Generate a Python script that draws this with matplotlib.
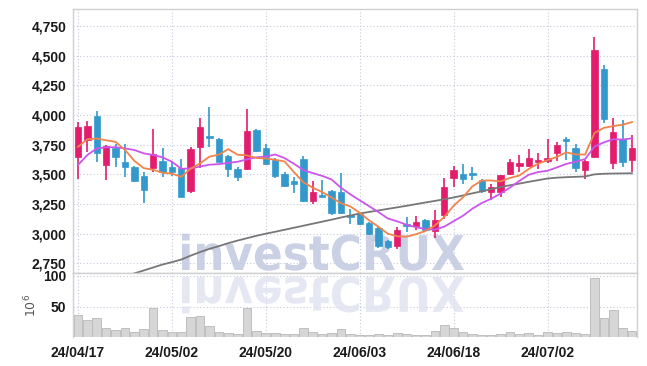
import matplotlib
matplotlib.use('Agg')
import numpy as np
import pandas as pd
import matplotlib.pyplot as plt
from matplotlib.textpath import TextPath
from matplotlib.patches import PathPatch
from matplotlib.font_manager import FontProperties
from matplotlib.transforms import Affine2D, IdentityTransform
from matplotlib.ticker import FuncFormatter

# Daily candles (60 sessions)
tick_labels = ['24/04/17', '24/05/02', '24/05/20', '24/06/03', '24/06/18', '24/07/02']

opens = [3649, 3789, 3992, 3579, 3719, 3607, 3565, 3486, 3556, 3615,
         3559, 3551, 3362, 3733, 3823, 3795, 3655, 3543, 3547, 3874,
         3719, 3621, 3503, 3444, 3627, 3278, 3326, 3359, 3351, 3157,
         3166, 3092, 3048, 2940, 2896, 3081, 3064, 3115, 3025, 3157,
         3467, 3503, 3514, 3452, 3351, 3354, 3500, 3573, 3573, 3601,
         3615, 3677, 3800, 3722, 3536, 3649, 4386, 3598, 3795, 3621]
highs = [3944, 3952, 4036, 3745, 3756, 3753, 3570, 3522, 3880, 3719,
         3600, 3627, 3733, 3972, 4065, 3803, 3663, 3559, 4048, 3880,
         3756, 3635, 3520, 3480, 3656, 3446, 3452, 3370, 3514, 3205,
         3175, 3100, 3060, 2945, 3059, 3143, 3149, 3125, 3199, 3467,
         3570, 3587, 3564, 3458, 3418, 3495, 3629, 3663, 3713, 3677,
         3797, 3770, 3812, 3756, 3621, 4660, 4420, 3972, 3958, 3832]
lows = [3458, 3691, 3601, 3452, 3565, 3480, 3438, 3256, 3522, 3475,
        3490, 3311, 3345, 3551, 3733, 3600, 3475, 3446, 3536, 3685,
        3575, 3466, 3393, 3340, 3267, 3250, 3305, 3160, 3165, 3081,
        3075, 2985, 2880, 2875, 2868, 3016, 3031, 3022, 2961, 3121,
        3396, 3419, 3452, 3340, 3284, 3306, 3492, 3522, 3564, 3542,
        3598, 3615, 3621, 3522, 3458, 3645, 3935, 3542, 3564, 3522]
closes = [3896, 3907, 3677, 3739, 3649, 3559, 3446, 3368, 3672, 3522,
          3522, 3311, 3710, 3896, 3806, 3607, 3543, 3475, 3866, 3700,
          3584, 3489, 3404, 3416, 3275, 3351, 3311, 3171, 3177, 3138,
          3081, 2997, 2896, 2885, 3031, 3064, 3101, 3031, 3115, 3391,
          3536, 3461, 3492, 3359, 3396, 3495, 3607, 3593, 3635, 3621,
          3640, 3747, 3783, 3551, 3612, 4548, 3964, 3859, 3607, 3725]
# closes before the visible window (estimated from where the averages start)
prior_closes = [3067, 3117, 3649, 3649, 3649, 3586, 3648, 3812, 3717]

# long moving average
ma_long = [2540, 2560, 2580, 2600, 2620, 2640, 2665, 2690, 2715, 2740,
           2760, 2782, 2815, 2845, 2872, 2895, 2920, 2942, 2962, 2982,
           3000, 3016, 3033, 3050, 3067, 3084, 3101, 3118, 3136, 3153,
           3170, 3183, 3196, 3209, 3222, 3235, 3249, 3263, 3276, 3290,
           3305, 3322, 3340, 3357, 3375, 3393, 3408, 3422, 3437, 3451,
           3465, 3472, 3476, 3479, 3482, 3500, 3505, 3507, 3508, 3509]

# volume in millions
volumes = [36, 28, 31, 15, 12, 15, 8.5, 13, 48, 12,
           9.5, 9.5, 34, 35.6, 18, 8.5, 6.9, 5.3, 47, 10.5,
           7.4, 6.9, 5.3, 5.3, 15, 8.5, 5.3, 7.4, 13, 5.3,
           4.2, 4.2, 5.8, 4.2, 7.4, 5.8, 4.2, 4.2, 10, 21,
           15, 9, 5.8, 4.2, 4.2, 5.8, 9, 5.8, 7.4, 4.2,
           9, 7.4, 9, 7.4, 5.8, 96, 32, 44, 15, 10.5]

df = pd.DataFrame({'open': opens, 'high': highs, 'low': lows,
                   'close': closes, 'volume': volumes, 'ma_long': ma_long})
all_close = pd.Series(prior_closes + closes)
df['ma5'] = all_close.rolling(5).mean().iloc[len(prior_closes):].values
df['ma10'] = all_close.rolling(10).mean().iloc[len(prior_closes):].values
x = np.arange(len(df))

up_col = '#e31c6c'
down_col = '#3399cc'
grid_col = '#c5c8dc'
spine_col = '#d0d0d0'
lab_font = ['Liberation Sans', 'DejaVu Sans']

fig = plt.figure(figsize=(6.47, 3.66), dpi=100)
ax1 = fig.add_axes([0.1133, 0.2549, 0.8708, 0.7197])
ax2 = fig.add_axes([0.1133, 0.0779, 0.8708, 0.1770], sharex=ax1)

# candles
up = df['close'] >= df['open']
colors = np.where(up, up_col, down_col)
body_low = np.minimum(df['open'], df['close'])
body_h = np.maximum(np.abs(df['close'] - df['open']), 14)
ax1.vlines(x, df['low'], df['high'], colors=colors, lw=1.2, zorder=3)
ax1.bar(x, body_h, bottom=body_low, width=0.68, color=colors,
        edgecolor=colors, lw=0.5, zorder=4)

# moving averages
ax1.plot(x, df['ma_long'], color='#777777', lw=1.3, zorder=5)
ax1.plot(x, df['ma10'], color='#cc55ee', lw=1.3, zorder=5)
ax1.plot(x, df['ma5'], color='#f0844c', lw=1.3, zorder=6)

ax1.set_ylim(2671, 4891)
ax1.set_yticks(np.arange(2750, 4751, 250))
ax1.yaxis.set_major_formatter(FuncFormatter(lambda v, p: f'{int(v):,}'))

# volume
ax2.bar(x, df['volume'], width=0.92, color='#d6d6d6', edgecolor='#b8b8b8',
        lw=0.6, zorder=3)
ax2.set_ylim(0, 105)
ax2.set_yticks([50, 100])
ax2.set_ylabel(r'$10^6$', color='#555555', fontsize=9, labelpad=3)

ax1.set_xlim(-0.5, 59.5)
ax2.set_xticks(np.arange(0, 60, 10))
ax2.set_xticklabels(tick_labels)
plt.setp(ax1.get_xticklabels(), visible=False)

for ax in (ax1, ax2):
    ax.grid(True, color=grid_col, ls=(0, (1, 2)), lw=0.8, zorder=0)
    ax.set_axisbelow(True)
    ax.tick_params(length=0, colors='#1a1a1a', pad=5)
    for lab in ax.get_yticklabels() + ax.get_xticklabels():
        lab.set_family(lab_font)
        lab.set_fontweight('bold')
        lab.set_fontsize(10)
    for s in ax.spines.values():
        s.set_color(spine_col)
        s.set_linewidth(1.0)
ax2.spines['bottom'].set_visible(False)
ax2.tick_params(axis='x', pad=6)

# watermark with reflection
tp = TextPath((0, 0), 'investCRUX', size=1,
              prop=FontProperties(family='DejaVu Sans', weight='bold'))
bb = tp.get_extents()
H = 366
x0, x1 = 182, 464
top, base = 233, 270
sx = (x1 - x0) / bb.width
sy = (base - top) / bb.height
main_tr = Affine2D().translate(-bb.x0, 0).scale(sx, sy).translate(x0, H - base)
refl_tr = Affine2D().translate(-bb.x0, 0).scale(sx, -sy).translate(x0, H - 277)
p1 = PathPatch(main_tr.transform_path(tp), color='#c5cce2', lw=0,
               transform=IdentityTransform(), zorder=1, alpha=0.9)
p2 = PathPatch(refl_tr.transform_path(tp), color='#dfe3ef', lw=0,
               transform=IdentityTransform(), zorder=1, alpha=0.8)
ax1.add_patch(p1)
ax2.add_patch(p2)

fig.savefig('out.png', dpi=100)
